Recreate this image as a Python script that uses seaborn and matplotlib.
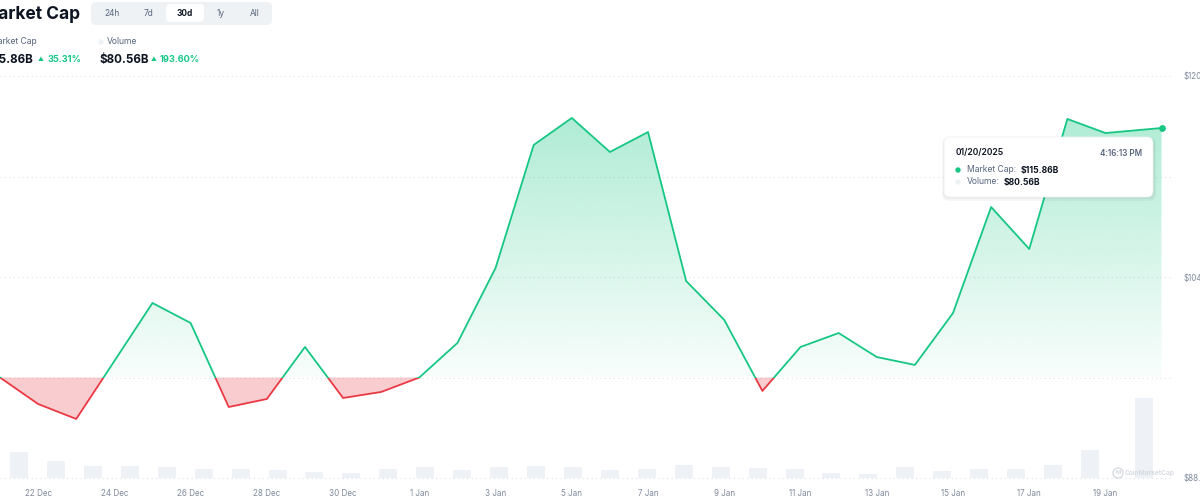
import numpy as np
import pandas as pd
import matplotlib
matplotlib.use("Agg")
import matplotlib.pyplot as plt
import matplotlib.dates as mdates
from matplotlib.patches import FancyBboxPatch, Rectangle, Circle
from matplotlib.path import Path
from matplotlib.transforms import IdentityTransform
from matplotlib.colors import to_rgb
import seaborn as sns

# ---------------- data ----------------
dates = ["2024-12-21 00:00", "2024-12-22 00:00", "2024-12-23 00:00", "2024-12-24 00:00",
         "2024-12-25 00:00", "2024-12-26 00:00", "2024-12-27 00:00", "2024-12-28 00:00",
         "2024-12-29 00:00", "2024-12-30 00:00", "2024-12-31 00:00", "2025-01-01 00:00",
         "2025-01-02 00:00", "2025-01-03 00:00", "2025-01-04 00:00", "2025-01-05 00:00",
         "2025-01-06 00:00", "2025-01-07 00:00", "2025-01-08 00:00", "2025-01-09 00:00",
         "2025-01-10 00:00", "2025-01-11 00:00", "2025-01-12 00:00", "2025-01-13 00:00",
         "2025-01-14 00:00", "2025-01-15 00:00", "2025-01-16 00:00", "2025-01-17 00:00",
         "2025-01-18 00:00", "2025-01-19 00:00", "2025-01-20 11:17"]
market_cap = [96.00, 93.89, 92.70, 97.31, 101.93, 100.34, 93.65, 94.29, 98.43, 94.37,
              94.85, 96.00, 98.75, 104.72, 114.51, 116.66, 113.95, 115.54, 103.68, 100.58,
              94.93, 98.43, 99.54, 97.63, 97.00, 101.13, 109.57, 106.23, 116.58, 115.46,
              115.86]
volume = [26.4, 17.2, 12.2, 12.2, 11.2, 9.2, 9.2, 8.2, 6.2, 5.2,
          9.2, 11.2, 8.2, 11.2, 12.2, 11.2, 8.2, 9.2, 13.2, 11.2,
          10.2, 9.2, 5.2, 4.2, 11.2, 7.2, 9.2, 9.2, 13.2, 28.3,
          80.56]
xtick_dates = ["2024-12-22", "2024-12-24", "2024-12-26", "2024-12-28", "2024-12-30",
               "2025-01-01", "2025-01-03", "2025-01-05", "2025-01-07", "2025-01-09",
               "2025-01-11", "2025-01-13", "2025-01-15", "2025-01-17", "2025-01-19"]
xtick_labels = ["22 Dec", "24 Dec", "26 Dec", "28 Dec", "30 Dec", "1 Jan", "3 Jan",
                "5 Jan", "7 Jan", "9 Jan", "11 Jan", "13 Jan", "15 Jan", "17 Jan", "19 Jan"]
ytick_values = [120, 104, 88]
ytick_labels = ["$120.00B", "$104.00B", "$88.00B"]
grid_values = [120, 112, 104, 96, 88]
tabs = ["24h", "7d", "30d", "1y", "All"]
selected_tab = "30d"

# ---------------- style ----------------
sns.set_style("white")
plt.rcParams["font.family"] = ["Inter", "DejaVu Sans"]

GREEN = "#16c784"
RED = "#ea3943"
DARK = "#0d1421"
GREY = "#808a9d"
GREY2 = "#58667e"

W, H = 1200, 500
fig = plt.figure(figsize=(12, 5), dpi=100)
fig.patch.set_facecolor("white")
ID = IdentityTransform()


def ftext(x, y, s, **kw):
    return fig.text(x, H - y, s, transform=ID, **kw)


def rbox(x0, y0, x1, y1, r, fc, ec="none", lw=0, z=5):
    p = FancyBboxPatch((x0, H - y1), x1 - x0, y1 - y0,
                       boxstyle=f"round,pad=0,rounding_size={r}",
                       transform=ID, fc=fc, ec=ec, lw=lw, zorder=z)
    fig.add_artist(p)
    return p


def dot(x, y, r, fc, ec="none", lw=0, z=12):
    c = Circle((x, H - y), r, transform=ID, fc=fc, ec=ec, lw=lw, zorder=z)
    fig.add_artist(c)
    return c


df = pd.DataFrame({"date": pd.to_datetime(dates, format="%Y-%m-%d %H:%M"),
                   "mcap": market_cap, "vol": volume})
df["t"] = mdates.date2num(df["date"])
t = df["t"].to_numpy()
mc = df["mcap"].to_numpy()
t0 = t[0]
base = mc[0]

AX_L, AX_R, AX_T, AX_B = 0, 1172, 76, 478
rect = [AX_L / W, 1 - AX_B / H, (AX_R - AX_L) / W, (AX_B - AX_T) / H]
axv = fig.add_axes(rect, zorder=1)
ax = fig.add_axes(rect, zorder=2)
ax.patch.set_alpha(0)

# ---------------- volume bars ----------------
VOL_PX_DAY, VOL_OFF = 36.93, 19
axv.bar(df["t"], df["vol"], width=18 / VOL_PX_DAY, color="#eef1f5", lw=0)
axv.set_xlim(t0 - VOL_OFF / VOL_PX_DAY, t0 + (AX_R - AX_L - VOL_OFF) / VOL_PX_DAY)
axv.set_ylim(0, 402 * 80.56 / 80)
axv.axis("off")

# ---------------- main chart ----------------
PX_DAY = 38.12
for g in grid_values:
    ax.axhline(g, color="#dde1e7", lw=0.8, ls=(0, (1, 3)), clip_on=False, zorder=0)

ax.fill_between(t, mc, base, where=mc <= base, interpolate=True,
                color=RED, alpha=0.25, lw=0, zorder=1)
poly = ax.fill_between(t, mc, base, where=mc >= base, interpolate=True,
                       facecolor="none", edgecolor="none")
clip = Path.make_compound_path(*poly.get_paths())
grad = np.zeros((256, 1, 4))
grad[..., :3] = to_rgb(GREEN)
grad[:, 0, 3] = np.linspace(0.03, 0.34, 256)
im = ax.imshow(grad, extent=[t0, t[-1], base, mc.max()], origin="lower",
               aspect="auto", zorder=1, interpolation="bilinear")
im.set_clip_path(clip, transform=ax.transData)

sns.lineplot(x=t, y=mc, ax=ax, color=GREEN, lw=1.3, zorder=3)
ax.lines[-1].set_clip_path(Rectangle((t0 - 5, base), 100, 100, transform=ax.transData))
sns.lineplot(x=t, y=mc, ax=ax, color=RED, lw=1.3, zorder=3)
ax.lines[-1].set_clip_path(Rectangle((t0 - 5, base - 100), 100, 100, transform=ax.transData))
ax.scatter([t[-1]], [mc[-1]], s=24, color=GREEN, lw=0, zorder=4)

ax.set_xlim(t0, t0 + (AX_R - AX_L) / PX_DAY)
ax.set_ylim(88, 120)
ax.set_xticks(mdates.date2num(pd.to_datetime(xtick_dates)))
ax.set_xticklabels(xtick_labels)
ax.yaxis.tick_right()
ax.set_yticks(ytick_values)
ax.set_yticklabels(ytick_labels)
ax.tick_params(axis="both", length=0, colors=GREY, labelsize=5.8)
ax.tick_params(axis="x", pad=8)
ax.tick_params(axis="y", pad=8)
ax.set_xlabel("")
ax.set_ylabel("")
ax.grid(False)
for s in ax.spines.values():
    s.set_visible(False)

# ---------------- header ----------------
ftext(80, 19, "Market Cap", ha="right", va="baseline", fontsize=12.5,
      fontweight="bold", color=DARK)
rbox(91, 2, 272, 25, 5, "#eff2f5", z=5)
rbox(166, 4, 204, 22, 4, "white", z=6)
for lab, cx in zip(tabs, [112, 148, 185, 221, 255]):
    sel = lab == selected_tab
    ftext(cx, 13.5, lab, ha="center", va="center", fontsize=6,
          fontweight="bold" if sel else "normal", color=DARK if sel else GREY2, zorder=7)

ftext(37, 42, "Market Cap", ha="right", va="center", fontsize=6.2, color=GREY2)
dot(101, 42, 2.8, "#eff2f5")
ftext(107, 42, "Volume", ha="left", va="center", fontsize=6.2, color=GREY2)

ftext(33, 60, "$115.86B", ha="right", va="center", fontsize=8.4, fontweight="bold", color=DARK)
ftext(41, 59.5, "▲", ha="center", va="center", fontsize=4.2, color=GREEN)
ftext(47, 60, "35.31%", ha="left", va="center", fontsize=6.6, fontweight="bold", color=GREEN)
ftext(99, 60, "$80.56B", ha="left", va="center", fontsize=8.4, fontweight="bold", color=DARK)
ftext(154, 59.5, "▲", ha="center", va="center", fontsize=4.2, color=GREEN)
ftext(160, 60, "193.60%", ha="left", va="center", fontsize=6.6, fontweight="bold", color=GREEN)

# ---------------- tooltip ----------------
rbox(942, 138, 1156, 201, 7, (0, 0, 0, 0.035), z=9)
rbox(943, 137, 1155, 199, 6, (0, 0, 0, 0.035), z=9)
rbox(944, 137, 1153, 197, 6, "white", ec="#eef0f3", lw=0.5, z=10)
ftext(956, 153, "01/20/2025", ha="left", va="center", fontsize=6.2,
      fontweight="semibold", color=DARK, zorder=11)
ftext(1142, 153, "4:16:13 PM", ha="right", va="center", fontsize=5.8,
      fontweight="semibold", color=GREY2, zorder=11)
dot(958, 170, 2.7, GREEN)
ftext(967, 170, "Market Cap:", ha="left", va="center", fontsize=6.2, color=GREY2, zorder=11)
ftext(1021, 170, "$115.86B", ha="left", va="center", fontsize=6.2,
      fontweight="bold", color=DARK, zorder=11)
dot(958, 182, 2.7, "#eff2f5")
ftext(967, 182, "Volume:", ha="left", va="center", fontsize=6.2, color=GREY2, zorder=11)
ftext(1004, 182, "$80.56B", ha="left", va="center", fontsize=6.2,
      fontweight="bold", color=DARK, zorder=11)

# ---------------- watermark ----------------
dot(1118, 473, 5, "none", ec="#d3d8df", lw=0.9)
ftext(1118, 473, "M", ha="center", va="center", fontsize=4, fontweight="bold",
      color="#d3d8df", zorder=12)
ftext(1125, 473, "CoinMarketCap", ha="left", va="center", fontsize=4.7,
      fontweight="semibold", color="#d3d8df", zorder=12)

fig.savefig("out.png", dpi=100, facecolor="white")
